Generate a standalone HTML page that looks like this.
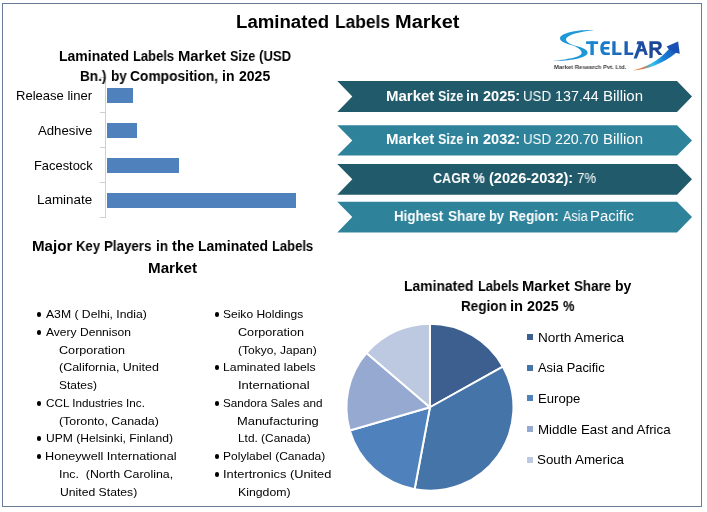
<!DOCTYPE html>
<html><head><meta charset="utf-8">
<style>
html,body{margin:0;padding:0;background:#fff;}
body{width:707px;height:512px;position:relative;overflow:hidden;font-family:"Liberation Sans",sans-serif;}
.t{position:absolute;white-space:pre;line-height:1;transform-origin:0 0;will-change:transform;}
.frame{position:absolute;left:2px;top:3px;width:700px;height:504px;box-sizing:border-box;border:1px solid #687c98;}
.bar{position:absolute;left:107px;height:14.7px;background:#4f81bd;}
.dot{position:absolute;width:4.8px;height:4.8px;border-radius:50%;background:#000;}
.lg{position:absolute;left:527px;width:6px;height:6px;}
svg{position:absolute;left:0;top:0;}
</style></head><body>
<div class="frame"></div>
<!-- bar chart axis -->
<div style="position:absolute;left:105px;top:77px;width:1px;height:141px;background:#d0d0d0"></div>
<div style="position:absolute;left:100px;top:77px;width:5px;height:1px;background:#d0d0d0"></div>
<div style="position:absolute;left:100px;top:112px;width:5px;height:1px;background:#d0d0d0"></div>
<div style="position:absolute;left:100px;top:147px;width:5px;height:1px;background:#d0d0d0"></div>
<div style="position:absolute;left:100px;top:182px;width:5px;height:1px;background:#d0d0d0"></div>
<div style="position:absolute;left:100px;top:217px;width:5px;height:1px;background:#d0d0d0"></div>
<div class="bar" style="top:88.1px;width:25.8px"></div>
<div class="bar" style="top:123.1px;width:29.9px"></div>
<div class="bar" style="top:158.1px;width:71.9px"></div>
<div class="bar" style="top:193px;width:189px"></div>
<!-- banners -->
<svg width="707" height="512" viewBox="0 0 707 512">
<polygon points="337.3,81 677,81 692,96.5 677,112 337.3,112 352.3,96.5" fill="#215a6a"/>
<polygon points="337.3,125.2 677,125.2 692,140.4 677,155.6 337.3,155.6 352.3,140.4" fill="#2e839b"/>
<polygon points="337.3,164 677,164 692,179.35 677,194.7 337.3,194.7 352.3,179.35" fill="#215a6a"/>
<polygon points="337.3,201.8 677,201.8 692,217.1 677,232.4 337.3,232.4 352.3,217.1" fill="#2e839b"/>
<path d="M429.95,407.25 L429.95,323.75 A83.50,83.50 0 0,1 502.84,366.51 Z" fill="#3c5f8f" stroke="#fff" stroke-width="2" stroke-linejoin="round"/>
<path d="M429.95,407.25 L502.84,366.51 A83.50,83.50 0 0,1 414.59,489.33 Z" fill="#4574a8" stroke="#fff" stroke-width="2" stroke-linejoin="round"/>
<path d="M429.95,407.25 L414.59,489.33 A83.50,83.50 0 0,1 349.77,430.55 Z" fill="#4f81bd" stroke="#fff" stroke-width="2" stroke-linejoin="round"/>
<path d="M429.95,407.25 L349.77,430.55 A83.50,83.50 0 0,1 366.55,352.91 Z" fill="#96a9d1" stroke="#fff" stroke-width="2" stroke-linejoin="round"/>
<path d="M429.95,407.25 L366.55,352.91 A83.50,83.50 0 0,1 429.95,323.75 Z" fill="#bdc9e1" stroke="#fff" stroke-width="2" stroke-linejoin="round"/>
<defs>
<linearGradient id="lg1" x1="585" y1="0" x2="663" y2="0" gradientUnits="userSpaceOnUse"><stop offset="0" stop-color="#1a8bd2"/><stop offset="0.3" stop-color="#1a78c8"/><stop offset="0.5" stop-color="#1b62b6"/><stop offset="0.7" stop-color="#1d4fa2"/><stop offset="1" stop-color="#1e4090"/></linearGradient>
<linearGradient id="lg2" x1="632" y1="70" x2="679" y2="44" gradientUnits="userSpaceOnUse"><stop offset="0" stop-color="#f5a04a"/><stop offset="0.18" stop-color="#e07a50"/><stop offset="0.38" stop-color="#2ec4ec"/><stop offset="0.62" stop-color="#1a7fd6"/><stop offset="1" stop-color="#1849b0"/></linearGradient>
</defs>
<g fill="#1e98d6">
<path d="M594,30.2 C578,29.5 561,33 560,38 C559.5,42 568,44.5 578,47 C571,44.5 565.5,42 566,39 C566.5,35.5 578,31.5 594,30.2 Z"/>
<path d="M574,45.5 C583,47.5 588.5,50 587.5,53.5 C586,58 570,61 552.5,61 C566,59.5 580,57.5 581.5,53.5 C582.5,50.5 578,48 574,45.5 Z"/>
</g>
<g fill="url(#lg1)">
<rect x="586.1" y="41.3" width="12" height="2.7"/>
<rect x="590.4" y="41.3" width="3.4" height="13.8"/>
<path d="M609.8,41.3 H605.5 C602,41.3 600.3,44 600.3,48.2 C600.3,52.4 602,55.1 605.5,55.1 H609.8 V52.4 H606 C604.2,52.4 603.6,50.5 603.6,48.2 C603.6,45.9 604.2,44 606,44 H609.8 Z"/>
<rect x="603" y="47" width="6.2" height="2.5"/>
<path d="M612.3,41.3 H615.6 V52.4 H621.5 V55.1 H612.3 Z"/>
<path d="M624.5,41.3 H627.8 V52.4 H633.2 V55.1 H624.5 Z"/>
<path fill-rule="evenodd" d="M633.6,58.5 L638.7,44.2 L636.5,44.2 L637.3,41.3 H643.3 L647.8,55.1 H644.7 L643.6,51.6 H639.6 L636.8,58.5 Z M640.4,48.9 H642.7 L641.6,45.2 Z"/>
<path fill-rule="evenodd" d="M649.4,41.3 H657 C660.3,41.3 661.8,43 661.8,45.6 C661.8,48 660.4,49.4 658.2,49.9 L662.5,55.1 H658.6 L654.8,50.2 H652.8 L652.6,57.8 L649.4,58.2 Z M652.8,44 V47.6 H656.6 C657.9,47.6 658.5,46.8 658.5,45.8 C658.5,44.7 657.9,44 656.6,44 Z"/>
</g>
<path fill="url(#lg2)" d="M632.2,70.6 C645,67.5 658,61.5 668.5,49.5 L671,47.5 L677,51 L675.5,53.2 C663,63.5 647,69.5 632.2,70.6 Z"/>
<path fill="#1a4fb4" d="M666.6,46.6 L678.1,41.5 L679.8,53.8 L675.5,52.8 L668.8,49.3 Z"/>

</svg>
<!-- legend markers -->
<div class="lg" style="top:334.1px;background:#3c5f8f"></div>
<div class="lg" style="top:364.7px;background:#4574a8"></div>
<div class="lg" style="top:395.3px;background:#4f81bd"></div>
<div class="lg" style="top:425.9px;background:#96a9d1"></div>
<div class="lg" style="top:456.5px;background:#bdc9e1"></div>
<div class="dot" style="left:36.65px;top:311.95px"></div>
<div class="dot" style="left:36.65px;top:329.95px"></div>
<div class="dot" style="left:36.65px;top:400.95px"></div>
<div class="dot" style="left:36.65px;top:435.95px"></div>
<div class="dot" style="left:36.65px;top:453.95px"></div>
<div class="dot" style="left:214.50px;top:311.95px"></div>
<div class="dot" style="left:214.50px;top:364.95px"></div>
<div class="dot" style="left:214.50px;top:400.95px"></div>
<div class="dot" style="left:214.50px;top:453.95px"></div>
<div class="dot" style="left:214.50px;top:471.95px"></div>
<div class="t" style="left:236.36px;top:13px;font-size:18.00px;color:#000;transform:scaleX(1.0349)"><b>Laminated</b></div>
<div class="t" style="left:334.87px;top:13px;font-size:18.00px;color:#000;transform:scaleX(0.9650)"><b>Labels</b></div>
<div class="t" style="left:394.98px;top:13px;font-size:18.00px;color:#000;transform:scaleX(1.1103)"><b>Market</b></div>
<div class="t" style="left:59.04px;top:49px;font-size:14.00px;color:#000;transform:scaleX(0.9979)"><b>Laminated</b></div>
<div class="t" style="left:133.39px;top:49px;font-size:14.00px;color:#000;transform:scaleX(0.9253)"><b>Labels</b></div>
<div class="t" style="left:177.66px;top:49px;font-size:14.00px;color:#000;transform:scaleX(1.0598)"><b>Market</b></div>
<div class="t" style="left:230.04px;top:49px;font-size:14.00px;color:#000;transform:scaleX(0.9003)"><b>Size</b></div>
<div class="t" style="left:258.59px;top:49px;font-size:14.00px;color:#000;transform:scaleX(0.9411)"><b>(USD</b></div>
<div class="t" style="left:80.35px;top:69px;font-size:14.00px;color:#000;transform:scaleX(0.9707)"><b>Bn.)</b></div>
<div class="t" style="left:110.78px;top:69px;font-size:14.00px;color:#000;transform:scaleX(0.9664)"><b>by</b></div>
<div class="t" style="left:129.91px;top:69px;font-size:14.00px;color:#000;transform:scaleX(0.9841)"><b>Composition,</b></div>
<div class="t" style="left:221.91px;top:69px;font-size:14.00px;color:#000;transform:scaleX(0.9617)"><b>in</b></div>
<div class="t" style="left:239.14px;top:69px;font-size:14.00px;color:#000;transform:scaleX(1.0016)"><b>2025</b></div>
<div class="t" style="left:15.86px;top:90px;font-size:12.57px;color:#000;transform:scaleX(1.0376)">Release liner</div>
<div class="t" style="left:37.98px;top:125px;font-size:12.57px;color:#000;transform:scaleX(1.0493)">Adhesive</div>
<div class="t" style="left:33.65px;top:160px;font-size:12.57px;color:#000;transform:scaleX(1.0252)">Facestock</div>
<div class="t" style="left:36.67px;top:194px;font-size:12.57px;color:#000;transform:scaleX(1.0689)">Laminate</div>
<div class="t" style="left:385.70px;top:89px;font-size:14.00px;color:#fff;transform:scaleX(1.0715)"><b>Market</b></div>
<div class="t" style="left:437.68px;top:89px;font-size:14.00px;color:#fff;transform:scaleX(0.9003)"><b>Size</b></div>
<div class="t" style="left:466.43px;top:89px;font-size:14.00px;color:#fff;transform:scaleX(1.0147)"><b>in</b></div>
<div class="t" style="left:483.03px;top:89px;font-size:14.00px;color:#fff;transform:scaleX(1.0393)"><b>2025:</b></div>
<div class="t" style="left:523.42px;top:89px;font-size:14.00px;color:#fff;transform:scaleX(0.9508)">USD</div>
<div class="t" style="left:555.10px;top:89px;font-size:14.00px;color:#fff;transform:scaleX(1.0222)">137.44</div>
<div class="t" style="left:602.83px;top:89px;font-size:14.00px;color:#fff;transform:scaleX(1.0713)">Billion</div>
<div class="t" style="left:385.70px;top:132px;font-size:14.00px;color:#fff;transform:scaleX(1.0715)"><b>Market</b></div>
<div class="t" style="left:437.68px;top:132px;font-size:14.00px;color:#fff;transform:scaleX(0.9003)"><b>Size</b></div>
<div class="t" style="left:466.43px;top:132px;font-size:14.00px;color:#fff;transform:scaleX(1.0147)"><b>in</b></div>
<div class="t" style="left:483.03px;top:132px;font-size:14.00px;color:#fff;transform:scaleX(1.0393)"><b>2032:</b></div>
<div class="t" style="left:523.42px;top:132px;font-size:14.00px;color:#fff;transform:scaleX(0.9508)">USD</div>
<div class="t" style="left:555.44px;top:132px;font-size:14.00px;color:#fff;transform:scaleX(1.0161)">220.70</div>
<div class="t" style="left:602.83px;top:132px;font-size:14.00px;color:#fff;transform:scaleX(1.0713)">Billion</div>
<div class="t" style="left:433.23px;top:171px;font-size:14.00px;color:#fff;transform:scaleX(0.9000)"><b>CAGR</b></div>
<div class="t" style="left:473.36px;top:171px;font-size:14.00px;color:#fff;transform:scaleX(0.9506)"><b>%</b></div>
<div class="t" style="left:488.91px;top:171px;font-size:14.00px;color:#fff;transform:scaleX(1.0406)"><b>(2026-2032):</b></div>
<div class="t" style="left:576.51px;top:171px;font-size:14.00px;color:#fff;transform:scaleX(0.9498)">7%</div>
<div class="t" style="left:394.25px;top:209px;font-size:14.00px;color:#fff;transform:scaleX(0.9545)"><b>Highest</b></div>
<div class="t" style="left:447.66px;top:209px;font-size:14.00px;color:#fff;transform:scaleX(0.9711)"><b>Share</b></div>
<div class="t" style="left:488.82px;top:209px;font-size:14.00px;color:#fff;transform:scaleX(0.9151)"><b>by</b></div>
<div class="t" style="left:509.23px;top:209px;font-size:14.00px;color:#fff;transform:scaleX(0.9513)"><b>Region:</b></div>
<div class="t" style="left:562.80px;top:209px;font-size:14.00px;color:#fff;transform:scaleX(0.9072)">Asia</div>
<div class="t" style="left:590.13px;top:209px;font-size:14.00px;color:#fff;transform:scaleX(1.0659)">Pacific</div>
<div class="t" style="left:32.18px;top:239px;font-size:14.00px;color:#000;transform:scaleX(1.0795)"><b>Major</b></div>
<div class="t" style="left:76.34px;top:239px;font-size:14.00px;color:#000;transform:scaleX(0.9372)"><b>Key</b></div>
<div class="t" style="left:104.28px;top:239px;font-size:14.00px;color:#000;transform:scaleX(0.9518)"><b>Players</b></div>
<div class="t" style="left:155.63px;top:239px;font-size:14.00px;color:#000;transform:scaleX(0.9570)"><b>in</b></div>
<div class="t" style="left:172.21px;top:239px;font-size:14.00px;color:#000;transform:scaleX(1.0502)"><b>the</b></div>
<div class="t" style="left:197.89px;top:239px;font-size:14.00px;color:#000;transform:scaleX(0.9941)"><b>Laminated</b></div>
<div class="t" style="left:272.35px;top:239px;font-size:14.00px;color:#000;transform:scaleX(0.9276)"><b>Labels</b></div>
<div class="t" style="left:148.40px;top:261px;font-size:14.00px;color:#000;transform:scaleX(1.0859)"><b>Market</b></div>
<div class="t" style="left:45.85px;top:309px;font-size:11.20px;color:#000;transform:scaleX(1.0884)">A3M ( Delhi, India)</div>
<div class="t" style="left:45.85px;top:327px;font-size:11.20px;color:#000;transform:scaleX(1.0784)">Avery Dennison</div>
<div class="t" style="left:59.17px;top:345px;font-size:11.20px;color:#000;transform:scaleX(1.1277)">Corporation</div>
<div class="t" style="left:58.88px;top:362px;font-size:11.20px;color:#000;transform:scaleX(1.1161)">(California, United</div>
<div class="t" style="left:59.43px;top:380px;font-size:11.20px;color:#000;transform:scaleX(1.0711)">States)</div>
<div class="t" style="left:46.22px;top:398px;font-size:11.20px;color:#000;transform:scaleX(1.0446)">CCL Industries Inc.</div>
<div class="t" style="left:58.90px;top:416px;font-size:11.20px;color:#000;transform:scaleX(1.1072)">(Toronto, Canada)</div>
<div class="t" style="left:45.99px;top:433px;font-size:11.20px;color:#000;transform:scaleX(1.0807)">UPM (Helsinki, Finland)</div>
<div class="t" style="left:45.37px;top:451px;font-size:11.20px;color:#000;transform:scaleX(1.1305)">Honeywell International</div>
<div class="t" style="left:58.77px;top:469px;font-size:11.20px;color:#000;transform:scaleX(1.1055)">Inc.  (North Carolina,</div>
<div class="t" style="left:60.38px;top:487px;font-size:11.20px;color:#000;transform:scaleX(1.0896)">United States)</div>
<div class="t" style="left:223.42px;top:309px;font-size:11.20px;color:#000;transform:scaleX(1.0743)">Seiko Holdings</div>
<div class="t" style="left:238.18px;top:327px;font-size:11.20px;color:#000;transform:scaleX(1.1279)">Corporation</div>
<div class="t" style="left:238.11px;top:345px;font-size:11.20px;color:#000;transform:scaleX(1.0725)">(Tokyo, Japan)</div>
<div class="t" style="left:223.19px;top:362px;font-size:11.20px;color:#000;transform:scaleX(1.0963)">Laminated labels</div>
<div class="t" style="left:237.79px;top:380px;font-size:11.20px;color:#000;transform:scaleX(1.1624)">International</div>
<div class="t" style="left:223.44px;top:398px;font-size:11.20px;color:#000;transform:scaleX(1.0458)">Sandora Sales and</div>
<div class="t" style="left:237.34px;top:416px;font-size:11.20px;color:#000;transform:scaleX(1.1538)">Manufacturing</div>
<div class="t" style="left:237.92px;top:433px;font-size:11.20px;color:#000;transform:scaleX(1.0612)">Ltd. (Canada)</div>
<div class="t" style="left:223.20px;top:451px;font-size:11.20px;color:#000;transform:scaleX(1.0747)">Polylabel (Canada)</div>
<div class="t" style="left:222.69px;top:469px;font-size:11.20px;color:#000;transform:scaleX(1.1458)">Intertronics (United</div>
<div class="t" style="left:237.92px;top:487px;font-size:11.20px;color:#000;transform:scaleX(1.0969)">Kingdom)</div>
<div class="t" style="left:403.53px;top:279px;font-size:14.00px;color:#000;transform:scaleX(0.9916)"><b>Laminated</b></div>
<div class="t" style="left:477.97px;top:279px;font-size:14.00px;color:#000;transform:scaleX(0.9180)"><b>Labels</b></div>
<div class="t" style="left:522.20px;top:279px;font-size:14.00px;color:#000;transform:scaleX(1.0562)"><b>Market</b></div>
<div class="t" style="left:574.30px;top:279px;font-size:14.00px;color:#000;transform:scaleX(0.9529)"><b>Share</b></div>
<div class="t" style="left:615.44px;top:279px;font-size:14.00px;color:#000;transform:scaleX(0.9810)"><b>by</b></div>
<div class="t" style="left:461.35px;top:299px;font-size:14.00px;color:#000;transform:scaleX(0.9641)"><b>Region</b></div>
<div class="t" style="left:509.93px;top:299px;font-size:14.00px;color:#000;transform:scaleX(1.0520)"><b>in</b></div>
<div class="t" style="left:526.73px;top:299px;font-size:14.00px;color:#000;transform:scaleX(1.0194)"><b>2025</b></div>
<div class="t" style="left:562.50px;top:299px;font-size:14.00px;color:#000;transform:scaleX(0.9257)"><b>%</b></div>
<div class="t" style="left:537.98px;top:332px;font-size:12.57px;color:#000;transform:scaleX(1.0819)">North America</div>
<div class="t" style="left:538.09px;top:362px;font-size:12.57px;color:#000;transform:scaleX(1.0253)">Asia Pacific</div>
<div class="t" style="left:537.72px;top:393px;font-size:12.57px;color:#000;transform:scaleX(1.0441)">Europe</div>
<div class="t" style="left:537.86px;top:424px;font-size:12.57px;color:#000;transform:scaleX(1.0611)">Middle East and Africa</div>
<div class="t" style="left:537.31px;top:454px;font-size:12.57px;color:#000;transform:scaleX(1.0656)">South America</div>
<div class="t" style="left:554.11px;top:64px;font-size:6.00px;color:#3a3a3a;transform:scaleX(0.9865)"><b>Market Research Pvt. Ltd.</b></div>
</body></html>
